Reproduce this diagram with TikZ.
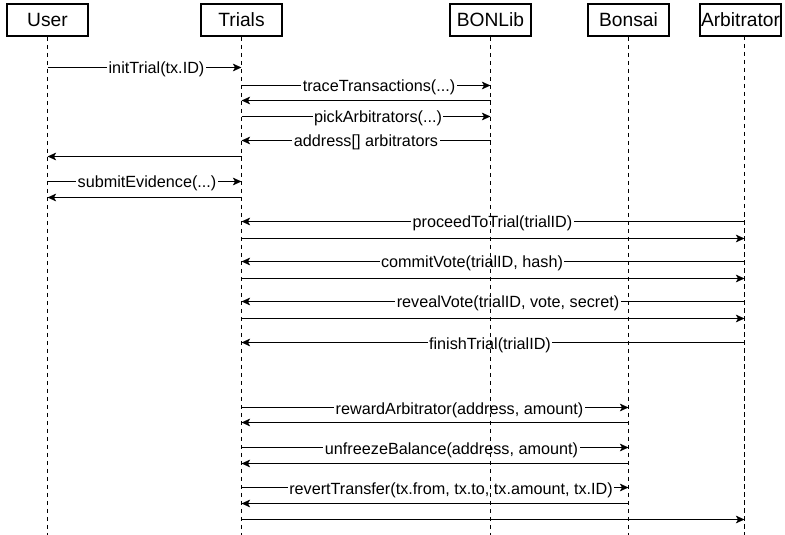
\documentclass[tikz,border=0pt]{standalone}
\usepackage{fontspec}
\setmainfont{Liberation Sans}
\usetikzlibrary{arrows.meta}
\begin{document}
\begin{tikzpicture}[x=1bp,y=-1bp,
  head/.style={draw, line width=1.6bp, minimum width=81bp, minimum height=32bp,
    inner sep=0pt, font=\fontsize{19.2bp}{22bp}\selectfont},
  life/.style={line width=1.8bp, dash pattern=on 4.5bp off 3.5bp},
  msg/.style={line width=1.8bp, -{Stealth[length=8.5bp,width=7.5bp,inset=2bp]}},
  lbl/.style={fill=white, inner xsep=1.5bp, inner ysep=1bp, anchor=base,
    yshift=-6.5bp, font=\fontsize{16.2bp}{19bp}\selectfont}]
\useasboundingbox (0,0) rectangle (785,535);

% participants
\node[head] (user)   at (47.5,20)  {User};
\node[head] (trials) at (241.5,20) {Trials};
\node[head] (bonlib) at (490.5,20) {BONLib};
\node[head] (bonsai) at (628.5,20) {Bonsai};
\node[head] (arb)    at (740.5,20) {Arbitrator};

% top ends of the lifelines
\coordinate (lu) at (user.south);
\coordinate (lt) at (trials.south);
\coordinate (lb) at (bonlib.south);
\coordinate (ls) at (bonsai.south);
\coordinate (la) at (744.5,36);

\newcommand\sendmsg[3]{\draw[msg] (#1 |- 0,#3) -- (#2 |- 0,#3);}

% messages
\sendmsg{lu}{lt}{67.5}
\sendmsg{lt}{lb}{85.5}
\sendmsg{lb}{lt}{100.5}
\sendmsg{lt}{lb}{116.5}
\sendmsg{lb}{lt}{140.5}
\sendmsg{lt}{lu}{156.5}
\sendmsg{lu}{lt}{181.5}
\sendmsg{lt}{lu}{197.5}
\sendmsg{la}{lt}{221.5}
\sendmsg{lt}{la}{238.5}
\sendmsg{la}{lt}{261.5}
\sendmsg{lt}{la}{278.5}
\sendmsg{la}{lt}{301.5}
\sendmsg{lt}{la}{318.5}
\sendmsg{la}{lt}{342.5}
\sendmsg{lt}{ls}{407.5}
\sendmsg{ls}{lt}{422.5}
\sendmsg{lt}{ls}{447.5}
\sendmsg{ls}{lt}{463.5}
\sendmsg{lt}{ls}{487.5}
\sendmsg{ls}{lt}{503.5}
\sendmsg{lt}{la}{519.5}

% message labels
\node[lbl] (m1)  at (156.5,67.5) {initTrial(tx.ID)};
\node[lbl] (m2)  at (379,85.5)   {traceTransactions(...)};
\node[lbl] (m3)  at (378,116.5)  {pickArbitrators(...)};
\node[lbl] (m4)  at (366,140.5)  {address[] arbitrators};
\node[lbl] (m5)  at (147,181.5)  {submitEvidence(...)};
\node[lbl] (m6)  at (492.5,221.5) {proceedToTrial(trialID)};
\node[lbl] (m7)  at (472,261.5)  {commitVote(trialID, hash)};
\node[lbl] (m8)  at (508,301.5)  {revealVote(trialID, vote, secret)};
\node[lbl] (m9)  at (490,342.5)  {finishTrial(trialID)};
\node[lbl] (m10) at (459.5,407.5) {rewardArbitrator(address, amount)};
\node[lbl] (m11) at (451.5,447.5) {unfreezeBalance(address, amount)};
\node[lbl] (m12) at (451,487.5)  {revertTransfer(tx.from, tx.to, tx.amount, tx.ID)};

% lifelines
\foreach \p in {lu,lt,lb,ls,la}
  \draw[life] (\p) -- (\p |- 0,535);
\end{tikzpicture}
\end{document}
